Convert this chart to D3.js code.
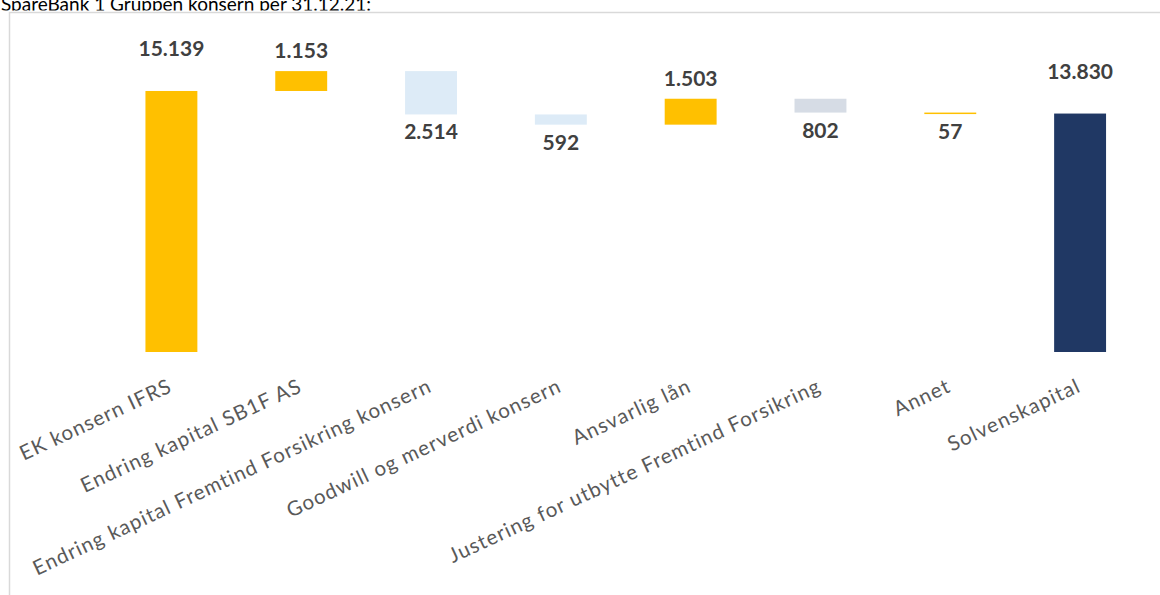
<!DOCTYPE html>
<html>
<head>
<meta charset="utf-8">
<script src="https://cdn.jsdelivr.net/npm/d3@7"></script>
<style>
  html, body { margin: 0; padding: 0; background: #fff; }
  svg { display: block; }
</style>
</head>
<body>
<svg id="chart" width="1160" height="595"></svg>
<script>
const title = "SpareBank 1 Gruppen konsern per 31.12.21:";
const categories = [
  "EK konsern IFRS",
  "Endring kapital SB1F AS",
  "Endring kapital Fremtind Forsikring konsern",
  "Goodwill og merverdi konsern",
  "Ansvarlig lån",
  "Justering for utbytte Fremtind Forsikring",
  "Annet",
  "Solvenskapital"
];
const values = [15139, 1153, -2514, -592, 1503, -802, -57, 13830];
const barKinds = ["total", "delta", "delta", "delta", "delta", "delta", "delta", "total"];
const barColors = ["#FFC000", "#FFC000", "#DDEBF7", "#DDEBF7", "#FFC000", "#D6DCE5", "#FFC000", "#203864"];

const svg = d3.select("#chart");
const W = 1160, H = 595;

// title (partially hidden: lower part covered by the chart area)
svg.append("text")
  .attr("x", 1).attr("y", 11)
  .attr("font-family", "Lato, sans-serif")
  .attr("font-size", 19)
  .attr("fill", "#000")
  .text(title);

// white cover + frame of chart area
svg.append("rect")
  .attr("x", 0).attr("y", 10.5)
  .attr("width", W).attr("height", H)
  .attr("fill", "#fff");
svg.append("rect")
  .attr("x", 9.5).attr("y", 12.5)
  .attr("width", W + 20).attr("height", H + 20)
  .attr("fill", "#fff").attr("stroke", "#D9D9D9").attr("stroke-width", 1.5);

// waterfall computation
let running = 0;
const bars = values.map((v, i) => {
  let start, end;
  if (barKinds[i] === "total") { start = 0; end = v; running = v; }
  else { start = running; end = running + v; running = end; }
  return { cat: categories[i], value: v, kind: barKinds[i], start, end, color: barColors[i] };
});

const x = d3.scaleBand()
  .domain(categories)
  .range([106.5, 1145])
  .paddingInner(0.6)
  .paddingOuter(0.3);

const y = d3.scaleLinear()
  .domain([0, 17400])
  .range([352, 52]);

const fmt = d3.formatLocale({ decimal: ",", thousands: ".", grouping: [3], currency: ["", ""] }).format(",d");

svg.append("g").selectAll("rect")
  .data(bars)
  .join("rect")
  .attr("x", d => x(d.cat))
  .attr("width", x.bandwidth())
  .attr("y", d => y(Math.max(d.start, d.end)))
  .attr("height", d => Math.max(1.5, Math.abs(y(d.start) - y(d.end))))
  .attr("fill", d => d.color);

// value labels
svg.append("g").selectAll("text")
  .data(bars)
  .join("text")
  .attr("x", d => x(d.cat) + x.bandwidth() / 2)
  .attr("y", d => {
    const top = y(Math.max(d.start, d.end));
    const bot = y(Math.min(d.start, d.end));
    if (d.kind === "total") return top - 35;
    if (d.value >= 0) return top - 13;
    return bot + 25;
  })
  .attr("text-anchor", "middle")
  .attr("font-family", "Lato, sans-serif")
  .attr("font-weight", "bold")
  .attr("font-size", 21)
  .attr("fill", "#404040")
  .text(d => fmt(Math.abs(d.value)));

// category axis labels
const axis = d3.axisBottom(x).tickSize(0).tickPadding(0);
const gAxis = svg.append("g").attr("transform", "translate(0,352)").call(axis);
gAxis.select(".domain").remove();
gAxis.selectAll(".tick text")
  .attr("font-family", "Lato, sans-serif")
  .attr("font-size", 20.5)
  .attr("letter-spacing", 1.1)
  .attr("fill", "#595959")
  .attr("text-anchor", "end")
  .attr("dy", null)
  .attr("y", null)
  .attr("transform", "translate(2,39) rotate(-25)");
</script>
</body>
</html>
